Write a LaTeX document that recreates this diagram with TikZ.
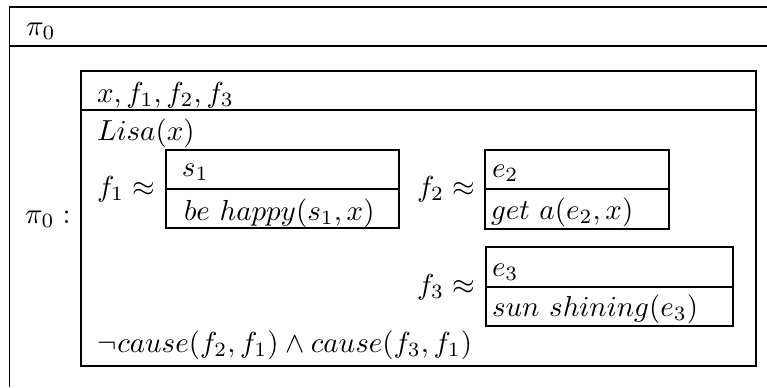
\documentclass[tikz,border=0pt]{standalone}
\begin{document}
\begin{tikzpicture}[x=0.345pt,y=-0.345pt,
  boxline/.style={draw=black,line width=0.55pt},
  txt/.style={anchor=base west,inner sep=0pt,outer sep=0pt}]
\useasboundingbox (0,0) rectangle (767,387);
% outer box (cut off at right and bottom)
\draw[boxline] (767,7) -- (9.5,7) -- (9.5,387);
\draw[boxline] (9.5,46) -- (767,46);
\node[txt] (hdr) at (26,35) {$\pi_0$};
\node[txt] (lbl) at (25,223) {$\pi_0:$};
% inner box
\draw[boxline] (81,71) rectangle (756,366);
\draw[boxline] (81,110) -- (756,110);
\node[txt] (univ) at (97,102) {$x, f_1, f_2, f_3$};
\node[txt] (lisa) at (97,140) {$Lisa(x)$};
% f1 box
\node[txt] (fa) at (97,196) {$f_1 \approx$};
\draw[boxline] (166,150) rectangle (399,228);
\draw[boxline] (166,189) -- (399,189);
\node[txt] (sa) at (182,176) {$s_1$};
\node[txt] (sb) at (184,220) {$be\ happy(s_1, x)$};
% f2 box
\node[txt] (fb) at (417,196) {$f_2 \approx$};
\draw[boxline] (485,150) rectangle (669,229);
\draw[boxline] (485,189) -- (669,189);
\node[txt] (ea) at (492,177) {$e_2$};
\node[txt] (eb) at (491,219) {$get\ a(e_2, x)$};
% f3 box
\node[txt] (fc) at (417,294) {$f_3 \approx$};
\draw[boxline] (486,247) rectangle (733,326);
\draw[boxline] (486,287) -- (733,287);
\node[txt] (ec) at (492,276) {$e_3$};
\node[txt] (ed) at (492,316) {$sun\ shining(e_3)$};
% condition
\node[txt] (cond) at (98,352) {$\neg cause(f_2, f_1) \wedge cause(f_3, f_1)$};
\end{tikzpicture}
\end{document}
